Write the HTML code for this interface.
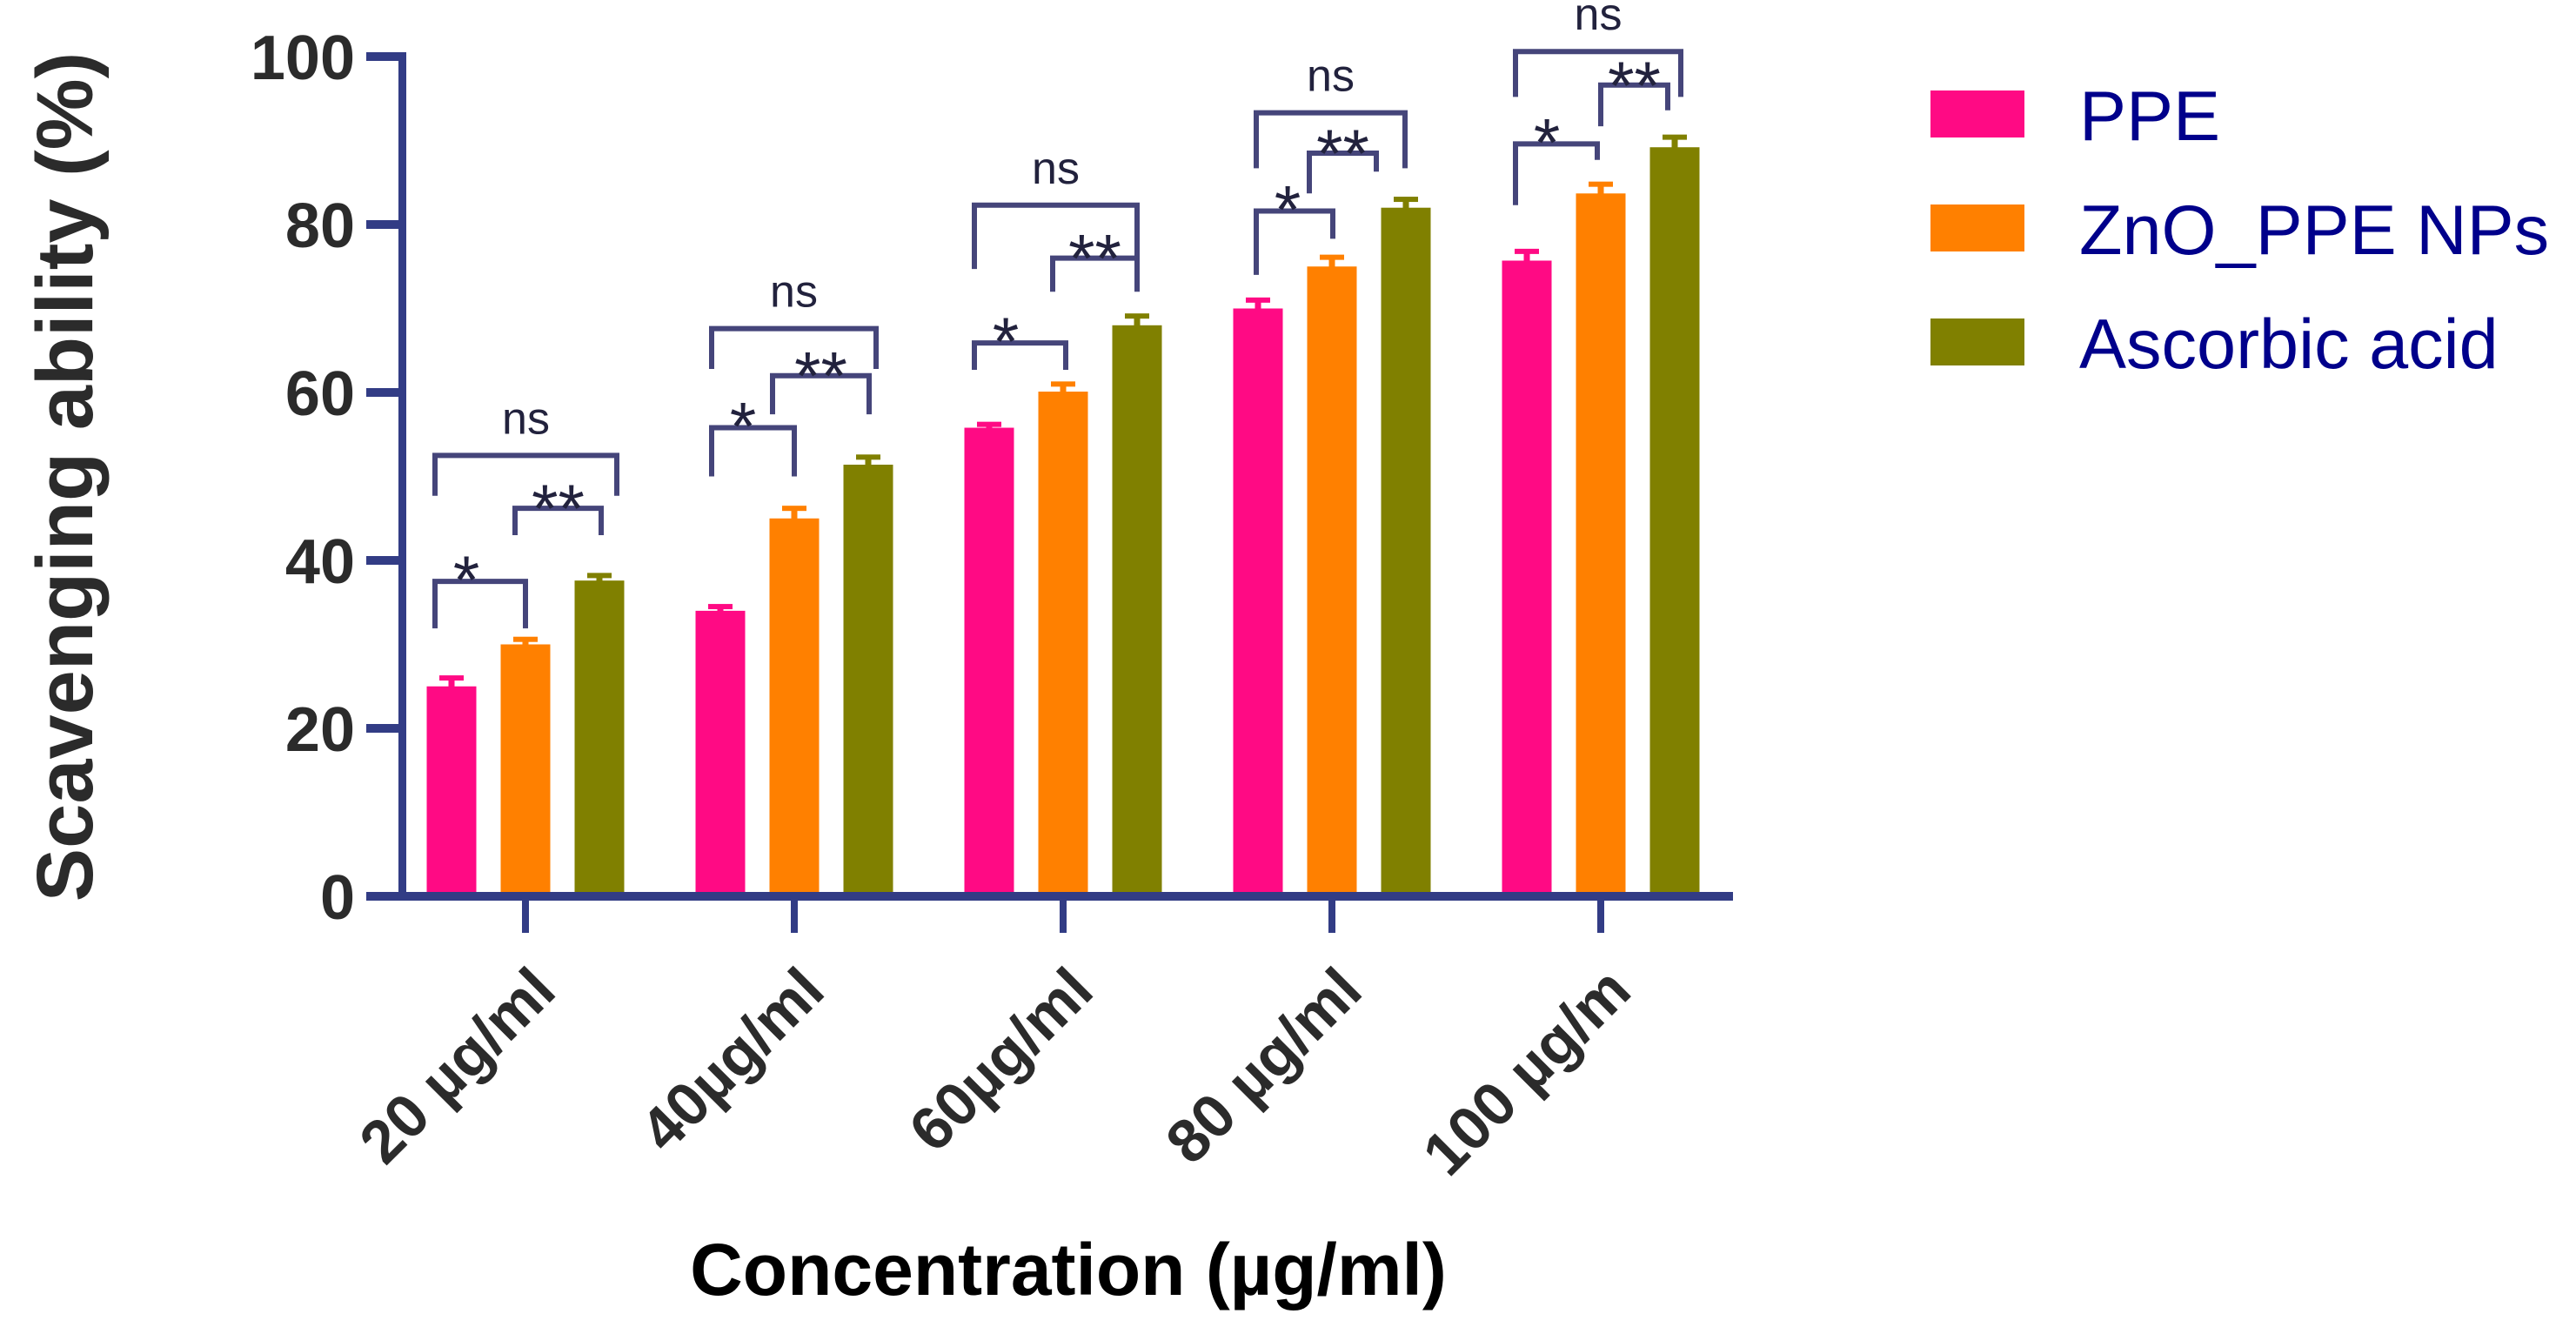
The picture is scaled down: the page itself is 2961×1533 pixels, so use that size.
<!DOCTYPE html>
<html><head><meta charset="utf-8"><style>
html,body{margin:0;padding:0;background:#fff;}
svg{display:block;font-family:"Liberation Sans",Arial,sans-serif;}
</style></head>
<body>
<svg id="chart" width="2961" height="1533" viewBox="0 0 2961 1533" xmlns="http://www.w3.org/2000/svg">
<g id="plot"></g>
</svg>
<script>
// ---- data ----
const categories = ["20 µg/ml","40µg/ml","60µg/ml","80 µg/ml","100 µg/m"];
const seriesNames = ["PPE","ZnO_PPE NPs","Ascorbic acid"];
const ppeValues = [25.0, 34.0, 55.8, 70.0, 75.7];
const znoValues = [30.0, 45.0, 60.1, 75.0, 83.7];
const ascValues = [37.6, 51.4, 68.0, 82.0, 89.2];
const ppeErr = [1.0, 0.5, 0.4, 1.0, 1.1];
const znoErr = [0.6, 1.2, 0.9, 1.1, 1.1];
const ascErr = [0.6, 0.9, 1.1, 1.0, 1.2];
const yTicks = [0, 20, 40, 60, 80, 100];
// significance bracket levels (value units): top, left leg bottom, right leg bottom
const nsTop = [52.5, 67.6, 82.3, 93.3, 100.6];
const nsLeg = [47.7, 62.8, 74.7, 86.7, 95.2];
const dblTop = [46.2, 62.0, 76.0, 88.5, 96.6];
const dblLegL = [43.0, 57.4, 72.0, 83.7, 91.7];
const dblLegR = [43.0, 57.4, 72.0, 86.3, 93.6];
const sglTop = [37.5, 55.8, 65.9, 81.6, 89.6];
const sglLegL = [31.9, 50.0, 62.7, 74.0, 82.3];
const sglLegR = [31.9, 50.0, 62.7, 78.3, 87.7];

// ---- layout ----
const y0 = 1030, pxPerUnit = 9.65;
const yScale = v => y0 - v * pxPerUnit;
const xCat = i => 604 + i * 309;
const barOff = [-85, 0, 85], barW = 57;
const colors = ["#FF0A84", "#FF8000", "#808000"];
const nsX = [[-104,105],[-95,94],[-102,85],[-87,84],[-98,92]];
const dblX = [[-12,87],[-25,86],[-12,85],[-26,51],[0,77]];
const sglX = [[-104,0],[-95,0],[-102,3],[-87,1],[-98,-4]];

const NS = "http://www.w3.org/2000/svg";
const g = document.getElementById('plot');
function mk(tag, attrs, parent) {
  const e = document.createElementNS(NS, tag);
  for (const k in attrs) e.setAttribute(k, attrs[k]);
  (parent || g).appendChild(e);
  return e;
}

// bars
const vals = [ppeValues, znoValues, ascValues];
const errs = [ppeErr, znoErr, ascErr];
categories.forEach((c, i) => {
  vals.forEach((arr, s) => {
    const cx = xCat(i) + barOff[s];
    const top = yScale(arr[i]);
    const r = mk('rect', {x: cx - barW/2, y: top, width: barW, height: y0 - top, fill: colors[s]});
    
    
    const et = yScale(arr[i] + errs[s][i]);
    const st = mk('rect', {x: cx - 3.5, y: et, width: 7, height: top - et + 1, fill: colors[s]});
    
    
    const cap = mk('rect', {x: cx - 14, y: et - 3, width: 28, height: 6, fill: colors[s]});
    
    
  });
});

// brackets
function bracket(x1, x2, top, l1, l2, name) {
  const p = mk('path', {d: `M${x1},${yScale(l1)} V${yScale(top)} H${x2} V${yScale(l2)}`, fill: 'none', stroke: '#45457A', 'stroke-width': 6, 'stroke-linejoin': 'miter'});
  
  
}
function label(x, y, txt, size, name) {
  const t = mk('text', {x: x, y: y, 'text-anchor': 'middle', 'font-size': size, fill: '#22223D'});
  t.textContent = txt;
  
  
}
categories.forEach((c, i) => {
  const cx = xCat(i);
  bracket(cx + nsX[i][0], cx + nsX[i][1], nsTop[i], nsLeg[i], nsLeg[i], 'ns-bracket');
  bracket(cx + dblX[i][0], cx + dblX[i][1], dblTop[i], dblLegL[i], dblLegR[i], 'double-star-bracket');
  bracket(cx + sglX[i][0], cx + sglX[i][1], sglTop[i], sglLegL[i], sglLegR[i], 'single-star-bracket');
  label(cx + (nsX[i][0] + nsX[i][1]) / 2, yScale(nsTop[i]) - 25, 'ns', 52, 'ns-label');
  label(cx + (dblX[i][0] + dblX[i][1]) / 2, yScale(dblTop[i]) - 18 + 45, '**', 78, 'double-star-label');
  label(cx + sglX[i][0] + 36, yScale(sglTop[i]) - 20 + 45, '*', 78, 'single-star-label');
});

// axes
const ya = mk('rect', {x: 458, y: 60, width: 9, height: 975, fill: '#323C85'});


const xa = mk('rect', {x: 458, y: 1025, width: 1534, height: 10, fill: '#323C85'});


yTicks.forEach(v => {
  const y = yScale(v);
  const tk = mk('rect', {x: 421, y: y - 5, width: 41, height: 10, fill: '#323C85'});
  
  
  const t = mk('text', {x: 408, y: y + 26, 'text-anchor': 'end', 'font-size': 72, 'font-weight': 'bold', fill: '#2B2B2B'});
  t.textContent = v;
  
  
});
categories.forEach((c, i) => {
  const x = xCat(i);
  const tk = mk('rect', {x: x - 4, y: 1030, width: 8, height: 42, fill: '#323C85'});
  
  
  const px = x + 38, py = 1142;
  const t = mk('text', {x: px, y: py, 'text-anchor': 'end', 'font-size': 70, 'font-weight': 'bold', fill: '#2B2B2B', transform: `rotate(-45 ${px} ${py})`});
  t.textContent = c;
  
  
});

// titles
const yt = mk('text', {x: 0, y: 0, 'text-anchor': 'middle', 'font-size': 92, 'font-weight': 'bold', fill: '#2B2B2B', transform: 'translate(106 548) rotate(-90)'});
yt.textContent = 'Scavenging ability (%)';


const xt = mk('text', {x: 1228, y: 1488, 'text-anchor': 'middle', 'font-size': 84, 'font-weight': 'bold', fill: '#000'});
xt.textContent = 'Concentration (µg/ml)';



// legend
const legY = [104, 235, 366];
seriesNames.forEach((n, s) => {
  const sw = mk('rect', {x: 2219, y: legY[s], width: 108, height: 54, fill: colors[s]});
  
  
  const t = mk('text', {x: 2390, y: legY[s] + 57, 'font-size': 81, fill: '#00008B'});
  t.textContent = n;
  
  
});
</script>
</body></html>
